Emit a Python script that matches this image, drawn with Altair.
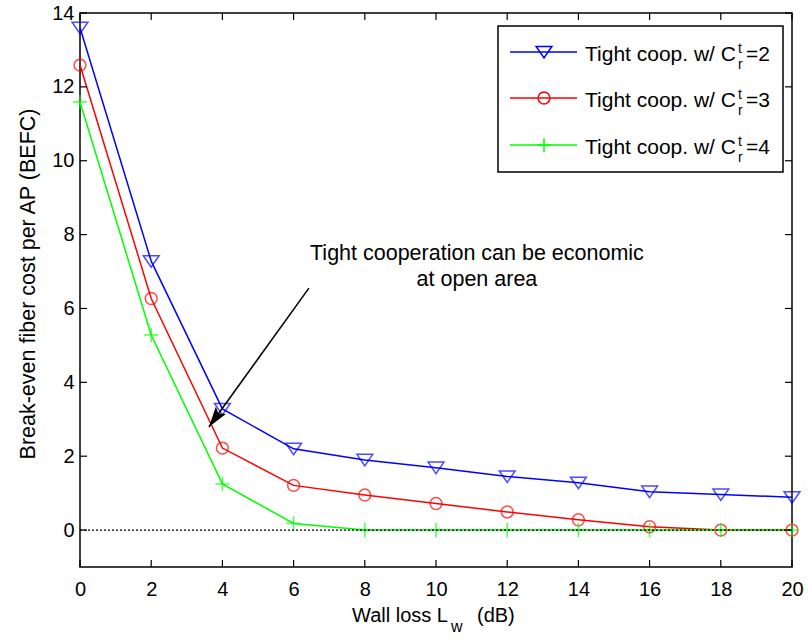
import altair as alt
import pandas as pd

# ---------------- data ----------------
wall_loss = [0, 2, 4, 6, 8, 10, 12, 14, 16, 18, 20]
befc_c2 = [13.6, 7.28, 3.28, 2.2, 1.9, 1.69, 1.45, 1.28, 1.04, 0.96, 0.89]
befc_c3 = [12.59, 6.27, 2.22, 1.21, 0.95, 0.72, 0.49, 0.28, 0.09, 0.0, 0.0]
befc_c4 = [11.59, 5.28, 1.25, 0.18, 0.0, 0.0, 0.0, 0.0, 0.0, 0.0, 0.0]
series_keys = ["c2", "c3", "c4"]
series_values = ["=2", "=3", "=4"]
series_colors = ["#0000ff", "#ff0000", "#00ff00"]

x_ticks = [0, 2, 4, 6, 8, 10, 12, 14, 16, 18, 20]
y_ticks = [0, 2, 4, 6, 8, 10, 12, 14]

annot_lines = ["Tight cooperation can be economic", "at open area"]
annot_x = [11.15, 11.15]
annot_y = [7.3, 6.6]
arrow_start = [6.43, 6.55]
arrow_tip = [3.62, 2.79]

# ---------------- styling ----------------
W, H = 712, 554
FONT = "Liberation Sans"
TRI = "M-1,-0.7L1,-0.7L0,0.75Z"
PLUS = "M-1,0L1,0M0,-1L0,1"
CIRC = "circle"
shapes = [TRI, CIRC, PLUS]
sizes = [250, 140, 200]

rows = []
for key, vals in zip(series_keys, [befc_c2, befc_c3, befc_c4]):
    for x, y in zip(wall_loss, vals):
        rows.append({"x": x, "y": y, "s": key})
df = pd.DataFrame(rows)

xs = alt.Scale(domain=[0, 20], nice=False, zero=False)
ys = alt.Scale(domain=[-1, 14], nice=False, zero=False)
cs = alt.Scale(domain=series_keys, range=series_colors)

X = alt.X("x:Q", scale=xs,
          axis=alt.Axis(values=x_ticks, ticks=False, domain=False, grid=False,
                        labelFont=FONT, labelFontSize=20, labelColor="black",
                        labelPadding=12, title=None, labelFlush=False))
Y = alt.Y("y:Q", scale=ys,
          axis=alt.Axis(values=y_ticks, ticks=False, domain=False, grid=False,
                        labelFont=FONT, labelFontSize=20, labelColor="black",
                        labelPadding=6, title=None, labelFlush=False))

base = alt.Chart(df)
lines = base.mark_line(strokeWidth=1.5).encode(
    x=X, y=Y, color=alt.Color("s:N", scale=cs, legend=None),
    order=alt.Order("x:Q"))

pts = []
for key, shp, sz in zip(series_keys, shapes, sizes):
    pts.append(
        base.transform_filter(alt.datum.s == key)
        .mark_point(shape=shp, size=sz, filled=False, strokeWidth=1.5)
        .encode(x=alt.X("x:Q", scale=xs), y=alt.Y("y:Q", scale=ys),
                color=alt.Color("s:N", scale=cs, legend=None))
    )

zero_df = pd.DataFrame({"x": [0], "x2": [20], "y": [0]})
zero_line = alt.Chart(zero_df).mark_rule(color="black", strokeWidth=1.3, strokeDash=[2, 2]).encode(
    x=alt.X("x:Q", scale=xs), x2="x2:Q", y=alt.Y("y:Q", scale=ys))

# inward ticks
xt_df = pd.DataFrame({"x": x_ticks})
yt_df = pd.DataFrame({"y": y_ticks})
tick_style = dict(color="black", strokeWidth=1.2)
xt_bot = alt.Chart(xt_df).mark_rule(**tick_style).encode(
    x=alt.X("x:Q", scale=xs), y=alt.value(H), y2=alt.value(H - 7))
xt_top = alt.Chart(xt_df).mark_rule(**tick_style).encode(
    x=alt.X("x:Q", scale=xs), y=alt.value(0), y2=alt.value(7))
yt_left = alt.Chart(yt_df).mark_rule(**tick_style).encode(
    y=alt.Y("y:Q", scale=ys), x=alt.value(0), x2=alt.value(7))
yt_right = alt.Chart(yt_df).mark_rule(**tick_style).encode(
    y=alt.Y("y:Q", scale=ys), x=alt.value(W), x2=alt.value(W - 7))

# annotation
ann_df = pd.DataFrame({"t": annot_lines, "x": annot_x, "y": annot_y})
ann = alt.Chart(ann_df).mark_text(font=FONT, fontSize=21.5, align="center",
                                  baseline="alphabetic", color="black").encode(
    x=alt.X("x:Q", scale=xs), y=alt.Y("y:Q", scale=ys), text="t:N")

arr_df = pd.DataFrame({"x": [arrow_start[0]], "y": [arrow_start[1]],
                       "x2": [arrow_tip[0]], "y2": [arrow_tip[1]]})
arrow_line = alt.Chart(arr_df).mark_rule(color="black", strokeWidth=1.5).encode(
    x=alt.X("x:Q", scale=xs), y=alt.Y("y:Q", scale=ys), x2="x2:Q", y2="y2:Q")
head_df = pd.DataFrame({"x": [arrow_tip[0]], "y": [arrow_tip[1]]})
arrow_head = alt.Chart(head_df).mark_point(
    shape="M0,0L0.6,2L0,1.6L-0.6,2Z", size=420, filled=True, color="black",
    opacity=1, angle=215.8, strokeWidth=0).encode(
    x=alt.X("x:Q", scale=xs), y=alt.Y("y:Q", scale=ys))

# axis titles (custom for subscripts)
ytitle = alt.Chart(pd.DataFrame({"t": ["Break-even fiber cost per AP (BEFC)"]})).mark_text(
    font=FONT, fontSize=21.5, angle=270, align="center", baseline="middle", color="black").encode(
    x=alt.value(-51), y=alt.value(271), text="t:N")
xt_main = alt.Chart(pd.DataFrame({"t": ["Wall loss L"]})).mark_text(
    font=FONT, fontSize=20, align="right", baseline="alphabetic", color="black").encode(
    x=alt.value(368), y=alt.value(609), text="t:N")
xt_sub = alt.Chart(pd.DataFrame({"t": ["w"]})).mark_text(
    font=FONT, fontSize=16, align="left", baseline="alphabetic", color="black").encode(
    x=alt.value(371), y=alt.value(619), text="t:N")
xt_unit = alt.Chart(pd.DataFrame({"t": ["(dB)"]})).mark_text(
    font=FONT, fontSize=20, align="left", baseline="alphabetic", color="black").encode(
    x=alt.value(397), y=alt.value(609), text="t:N")

# custom legend
LX0, LX1, LY0, LY1 = 418, 703, 13, 159
row_y = [39, 85, 132]
legend_box = alt.Chart(pd.DataFrame({"a": [0]})).mark_rect(
    fill="white", stroke="black", strokeWidth=1.5).encode(
    x=alt.value(LX0), x2=alt.value(LX1), y=alt.value(LY0), y2=alt.value(LY1))
leg_layers = [legend_box]
for i, key in enumerate(series_keys):
    ry = row_y[i]
    col = series_colors[i]
    one = pd.DataFrame({"s": [key]})
    leg_layers.append(alt.Chart(one).mark_rule(color=col, strokeWidth=1.5).encode(
        x=alt.value(430), x2=alt.value(497), y=alt.value(ry)))
    leg_layers.append(alt.Chart(one).mark_point(
        shape=shapes[i], size=sizes[i], filled=False, strokeWidth=1.5, color=col, opacity=1).encode(
        x=alt.value(464), y=alt.value(ry)))
    leg_layers.append(alt.Chart(pd.DataFrame({"t": ["Tight coop. w/ C"]})).mark_text(
        font=FONT, fontSize=21, align="left", baseline="alphabetic", color="black").encode(
        x=alt.value(505), y=alt.value(ry + 9), text="t:N"))
    leg_layers.append(alt.Chart(pd.DataFrame({"t": ["t"]})).mark_text(
        font=FONT, fontSize=14, align="left", baseline="alphabetic", color="black").encode(
        x=alt.value(658), y=alt.value(ry + 1), text="t:N"))
    leg_layers.append(alt.Chart(pd.DataFrame({"t": ["r"]})).mark_text(
        font=FONT, fontSize=14, align="left", baseline="alphabetic", color="black").encode(
        x=alt.value(658), y=alt.value(ry + 17), text="t:N"))
    leg_layers.append(alt.Chart(pd.DataFrame({"t": [series_values[i]]})).mark_text(
        font=FONT, fontSize=21, align="left", baseline="alphabetic", color="black").encode(
        x=alt.value(666), y=alt.value(ry + 9), text="t:N"))

chart = alt.layer(
    lines, *pts, zero_line, xt_bot, xt_top, yt_left, yt_right,
    arrow_line, arrow_head, ann, ytitle, xt_main, xt_sub, xt_unit, *leg_layers
).properties(
    width=W, height=H,
    autosize=alt.AutoSizeParams(type="none"),
    padding={"left": 80, "top": 13, "right": 16, "bottom": 72},
    background="white",
).configure_view(stroke="black", strokeWidth=1.5)

chart.save("out.html", embed_options={"renderer": "svg", "actions": False})
